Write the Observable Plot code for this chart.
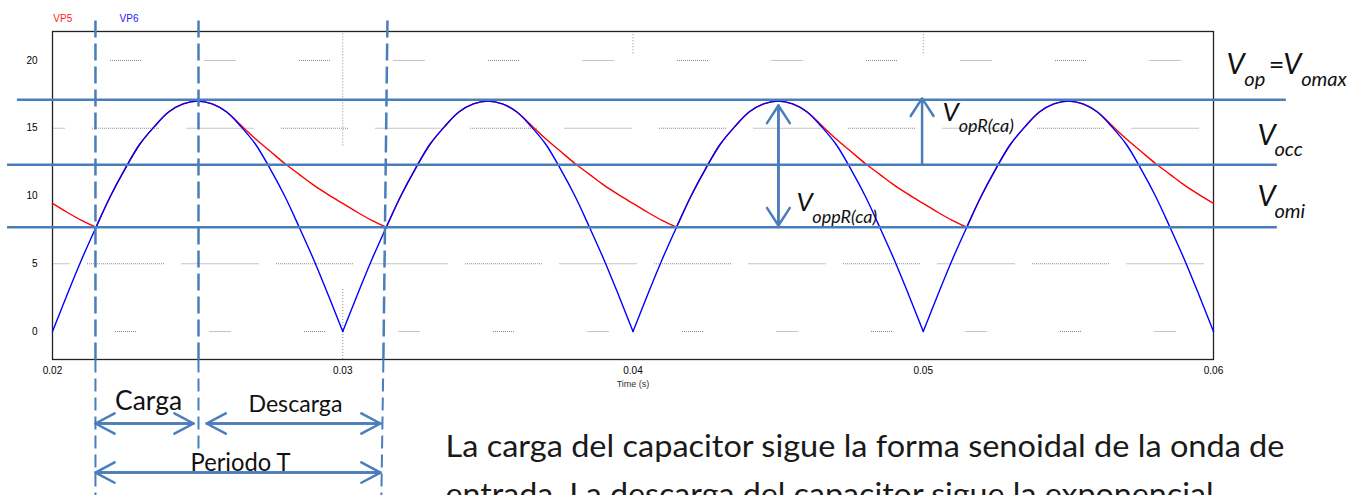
<!DOCTYPE html>
<html><head><meta charset="utf-8">
<script src="https://cdn.jsdelivr.net/npm/d3@7"></script>
<script src="https://cdn.jsdelivr.net/npm/@observablehq/plot@0.6"></script>
<style>body{margin:0;background:#fff;overflow:hidden}</style>
</head><body><div id="chart"></div>
<script>
// ---- data ----
const time = [
 0.0200,0.0205,0.0210,0.0215,0.0220,0.0225,0.0230,0.0235,0.0240,0.0245,
 0.0250,0.0255,0.0260,0.0265,0.0270,0.0275,0.0280,0.0285,0.0290,0.0295,
 0.0300,0.0305,0.0310,0.0315,0.0320,0.0325,0.0330,0.0335,0.0340,0.0345,
 0.0350,0.0355,0.0360,0.0365,0.0370,0.0375,0.0380,0.0385,0.0390,0.0395,
 0.0400,0.0405,0.0410,0.0415,0.0420,0.0425,0.0430,0.0435,0.0440,0.0445,
 0.0450,0.0455,0.0460,0.0465,0.0470,0.0475,0.0480,0.0485,0.0490,0.0495,
 0.0500,0.0505,0.0510,0.0515,0.0520,0.0525,0.0530,0.0535,0.0540,0.0545,
 0.0550,0.0555,0.0560,0.0565,0.0570,0.0575,0.0580,0.0585,0.0590,0.0595,
 0.0600];
// VP6: rectified input (blue)
const vp6 = [
 0,2.7,5.3,7.7,10.0,12.0,13.8,15.1,16.2,16.8,17.0,16.8,16.2,15.1,13.8,12.0,10.0,7.7,5.3,2.7,
 0,2.7,5.3,7.7,10.0,12.0,13.8,15.1,16.2,16.8,17.0,16.8,16.2,15.1,13.8,12.0,10.0,7.7,5.3,2.7,
 0,2.7,5.3,7.7,10.0,12.0,13.8,15.1,16.2,16.8,17.0,16.8,16.2,15.1,13.8,12.0,10.0,7.7,5.3,2.7,
 0,2.7,5.3,7.7,10.0,12.0,13.8,15.1,16.2,16.8,17.0,16.8,16.2,15.1,13.8,12.0,10.0,7.7,5.3,2.7,
 0];
// VP5: capacitor voltage (red)
const vp5 = [
 9.45,8.8,8.2,7.7,10.0,12.0,13.8,15.1,16.2,16.8,17.0,16.8,16.2,15.2,14.2,13.3,12.4,11.6,10.8,10.1,
 9.45,8.8,8.2,7.7,10.0,12.0,13.8,15.1,16.2,16.8,17.0,16.8,16.2,15.2,14.2,13.3,12.4,11.6,10.8,10.1,
 9.45,8.8,8.2,7.7,10.0,12.0,13.8,15.1,16.2,16.8,17.0,16.8,16.2,15.2,14.2,13.3,12.4,11.6,10.8,10.1,
 9.45,8.8,8.2,7.7,10.0,12.0,13.8,15.1,16.2,16.8,17.0,16.8,16.2,15.2,14.2,13.3,12.4,11.6,10.8,10.1,
 9.45];
const xTicks = [0.02, 0.03, 0.04, 0.05, 0.06];
const yTicks = [0, 5, 10, 15, 20];
const levelVop = 17.1, levelVocc = 12.3, levelVomi = 7.7;
const tCharge = 0.02148, tPeak = 0.02503, tEndTop = 0.03154, tEndBottom = 0.03133;
const bodyLines = [
 "La carga del capacitor sigue la forma senoidal de la onda de",
 "entrada. La descarga del capacitor sigue la exponencial"];

// tables for the library: split each wave at its kinks so smoothing keeps them sharp
const blueRows = [];
time.forEach((t, i) => {
  const k = Math.floor(i / 20);
  blueRows.push({t, v: vp6[i], k});
  if (i % 20 === 0 && i > 0) blueRows.push({t, v: vp6[i], k: k - 1});
});
const redRows = [];
time.forEach((t, i) => {
  const k = Math.floor((i + 7) / 10);
  redRows.push({t, v: vp5[i], k});
  if (i % 10 === 3) redRows.push({t, v: vp5[i], k: k - 1});
});

// ---- styling helpers ----
const AB = "#4a7ebb";
const CAL = "Lato, 'Open Sans', sans-serif";
const ARIAL = "'Liberation Sans', Arial, sans-serif";
function dotted(L, period) {
  const a = [];
  for (let i = 0; i < Math.floor(L / 2); i++) a.push(1, 1);
  a[a.length - 1] += period - 2 * Math.floor(L / 2);
  return a.join(",");
}
const one = [0];
const grid = (v, L, off) => Plot.ruleY([v], {x1: 0.02, x2: 0.06, stroke: "#8a8a8a", strokeWidth: 1,
  strokeDasharray: dotted(L, 94.5), strokeDashoffset: off});
const vgrid = (xs, a, b) => Plot.ruleX(xs, {y1: a, y2: b, stroke: "#8a8a8a", strokeWidth: 1, strokeDasharray: "1,2"});
const txt = (s, o) => Plot.text([s], {text: d => d, lineAnchor: "bottom", fontFamily: CAL, fill: "#111", ...o});
const arrow2 = (xa, ya, xb, yb, o) => [
  Plot.arrow(one, {x1: xa, y1: ya, x2: xb, y2: yb, stroke: AB, strokeWidth: 2.5, ...o}),
  Plot.arrow(one, {x1: xb, y1: yb, x2: xa, y2: ya, stroke: AB, strokeWidth: 2.5, ...o})];

const chart = Plot.plot({
  width: 1354, height: 495,
  marginLeft: 52, marginRight: 141, marginTop: 31, marginBottom: 136,
  style: {fontFamily: ARIAL, fontSize: "10px", background: "#fff", overflow: "visible"},
  x: {domain: [0.02, 0.06], ticks: xTicks, tickSize: 0, tickPadding: 7, label: null, tickFormat: d => String(d)},
  y: {domain: [-2.066, 22.14], ticks: yTicks, tickSize: 0, tickPadding: 15, label: null},
  marks: [
    grid(20, 33, 36.5), grid(15, 69, 54.5), grid(5, 79, 59.5), grid(0, 23, 31.5),
    vgrid([0.03], 13.7, 22.14), vgrid([0.03], -2.066, 3.1), vgrid([0.04, 0.05, 0.06], 20.5, 22.14),
    Plot.frame({stroke: "#222", strokeWidth: 1.3}),
    Plot.line(redRows, {x: "t", y: "v", z: "k", stroke: "#ff0000", strokeWidth: 1.4, curve: "catmull-rom"}),
    Plot.line(blueRows, {x: "t", y: "v", z: "k", stroke: "#0000ff", strokeWidth: 1.4, curve: "catmull-rom"}),
    Plot.text(["VP5"], {text: d => d, x: 0.02003, y: 23.1, textAnchor: "start", fill: "#ff2020", fontSize: 10, fontFamily: ARIAL}),
    Plot.text(["VP6"], {text: d => d, x: 0.02231, y: 23.1, textAnchor: "start", fill: "#2020ff", fontSize: 10, fontFamily: ARIAL}),
    Plot.text(["Time (s)"], {text: d => d, x: 0.04, y: -3.91, fill: "#333", fontSize: 9, fontFamily: ARIAL}),
    // level lines
    Plot.ruleY([levelVop], {x1: 0.01879, x2: 0.06251, stroke: AB, strokeWidth: 2.5}),
    Plot.ruleY([levelVocc, levelVomi], {x1: 0.01845, x2: 0.0622, stroke: AB, strokeWidth: 2.5}),
    // vertical dashed markers
    Plot.link(one, {x1: tCharge, x2: tCharge, y1: 22.95, y2: -2.066, stroke: AB, strokeWidth: 2.5, strokeDasharray: "17,6"}),
    Plot.link(one, {x1: tCharge, x2: tCharge, y1: -2.066, y2: -12.2, stroke: AB, strokeWidth: 2, strokeDasharray: "13,6"}),
    Plot.link(one, {x1: tPeak, x2: tPeak, y1: 22.95, y2: -2.066, stroke: AB, strokeWidth: 2.5, strokeDasharray: "17,6"}),
    Plot.link(one, {x1: tPeak, x2: tPeak, y1: -2.066, y2: -9.0, stroke: AB, strokeWidth: 2, strokeDasharray: "13,6"}),
    Plot.link(one, {x1: tEndTop, x2: 0.03140, y1: 22.95, y2: -2.066, stroke: AB, strokeWidth: 2.5, strokeDasharray: "17,6"}),
    Plot.link(one, {x1: 0.03140, x2: tEndBottom, y1: -2.066, y2: -12.2, stroke: AB, strokeWidth: 2, strokeDasharray: "13,6"}),
    // vertical arrows
    ...arrow2(0.04501, 16.68, 0.04501, 7.82, {headLength: 12.6, headAngle: 66}),
    Plot.arrow(one, {x1: 0.04996, y1: 12.3, x2: 0.04996, y2: 17.2, stroke: AB, strokeWidth: 2.5, headLength: 12.6, headAngle: 66}),
    // V labels
    txt("V", {x: 0.04563, y: 8.93, fontSize: 26, fontStyle: "italic", textAnchor: "start"}),
    txt("oppR(ca)", {x: 0.04618, y: 8.04, fontSize: 18, fontStyle: "italic", textAnchor: "start"}),
    txt("V", {x: 0.05066, y: 15.57, fontSize: 26, fontStyle: "italic", textAnchor: "start"}),
    txt("opR(ca)", {x: 0.05122, y: 14.76, fontSize: 18, fontStyle: "italic", textAnchor: "start"}),
    txt("V", {x: 0.06045, y: 18.97, fontSize: 29, fontStyle: "italic", textAnchor: "start"}),
    txt("op", {x: 0.06106, y: 18.15, fontSize: 20, fontStyle: "italic", textAnchor: "start"}),
    txt("=", {x: 0.06190, y: 18.97, fontSize: 27, textAnchor: "start"}),
    txt("V", {x: 0.06240, y: 18.97, fontSize: 29, fontStyle: "italic", textAnchor: "start"}),
    txt("omax", {x: 0.06302, y: 18.15, fontSize: 20, fontStyle: "italic", textAnchor: "start"}),
    txt("V", {x: 0.06152, y: 13.8, fontSize: 29, fontStyle: "italic", textAnchor: "start"}),
    txt("occ", {x: 0.06210, y: 12.92, fontSize: 20, fontStyle: "italic", textAnchor: "start"}),
    txt("V", {x: 0.06152, y: 9.23, fontSize: 29, fontStyle: "italic", textAnchor: "start"}),
    txt("omi", {x: 0.06210, y: 8.34, fontSize: 20, fontStyle: "italic", textAnchor: "start"}),
    // bottom annotations
    txt("Carga", {x: 0.02331, y: -5.76, fontSize: 27}),
    txt("Descarga", {x: 0.02837, y: -5.95, fontSize: 23}),
    txt("Periodo T", {x: 0.02648, y: -10.26, fontSize: 25}),
    ...arrow2(tCharge, -6.79, 0.02486, -6.79, {headLength: 13, headAngle: 56}),
    ...arrow2(0.02531, -6.79, 0.0313, -6.79, {headLength: 13, headAngle: 56}),
    ...arrow2(tCharge, -10.41, 0.0313, -10.41, {headLength: 13, headAngle: 56}),
    txt(bodyLines[0], {x: 0.03354, y: -9.23, fontSize: 30, textAnchor: "start", fill: "#1a1a1a"}),
    txt(bodyLines[1], {x: 0.03354, y: -12.77, fontSize: 30, textAnchor: "start", fill: "#1a1a1a"})
  ]
});
document.getElementById("chart").append(chart);
const fit = new Map([[bodyLines[0], 839], [bodyLines[1], 768], ["Carga", 67], ["Descarga", 94], ["Periodo T", 100]]);
chart.querySelectorAll("text").forEach(t => {
  const w = fit.get(t.textContent);
  if (w) { t.setAttribute("textLength", w); t.setAttribute("lengthAdjust", "spacingAndGlyphs"); }
});
</script>
</body></html>
